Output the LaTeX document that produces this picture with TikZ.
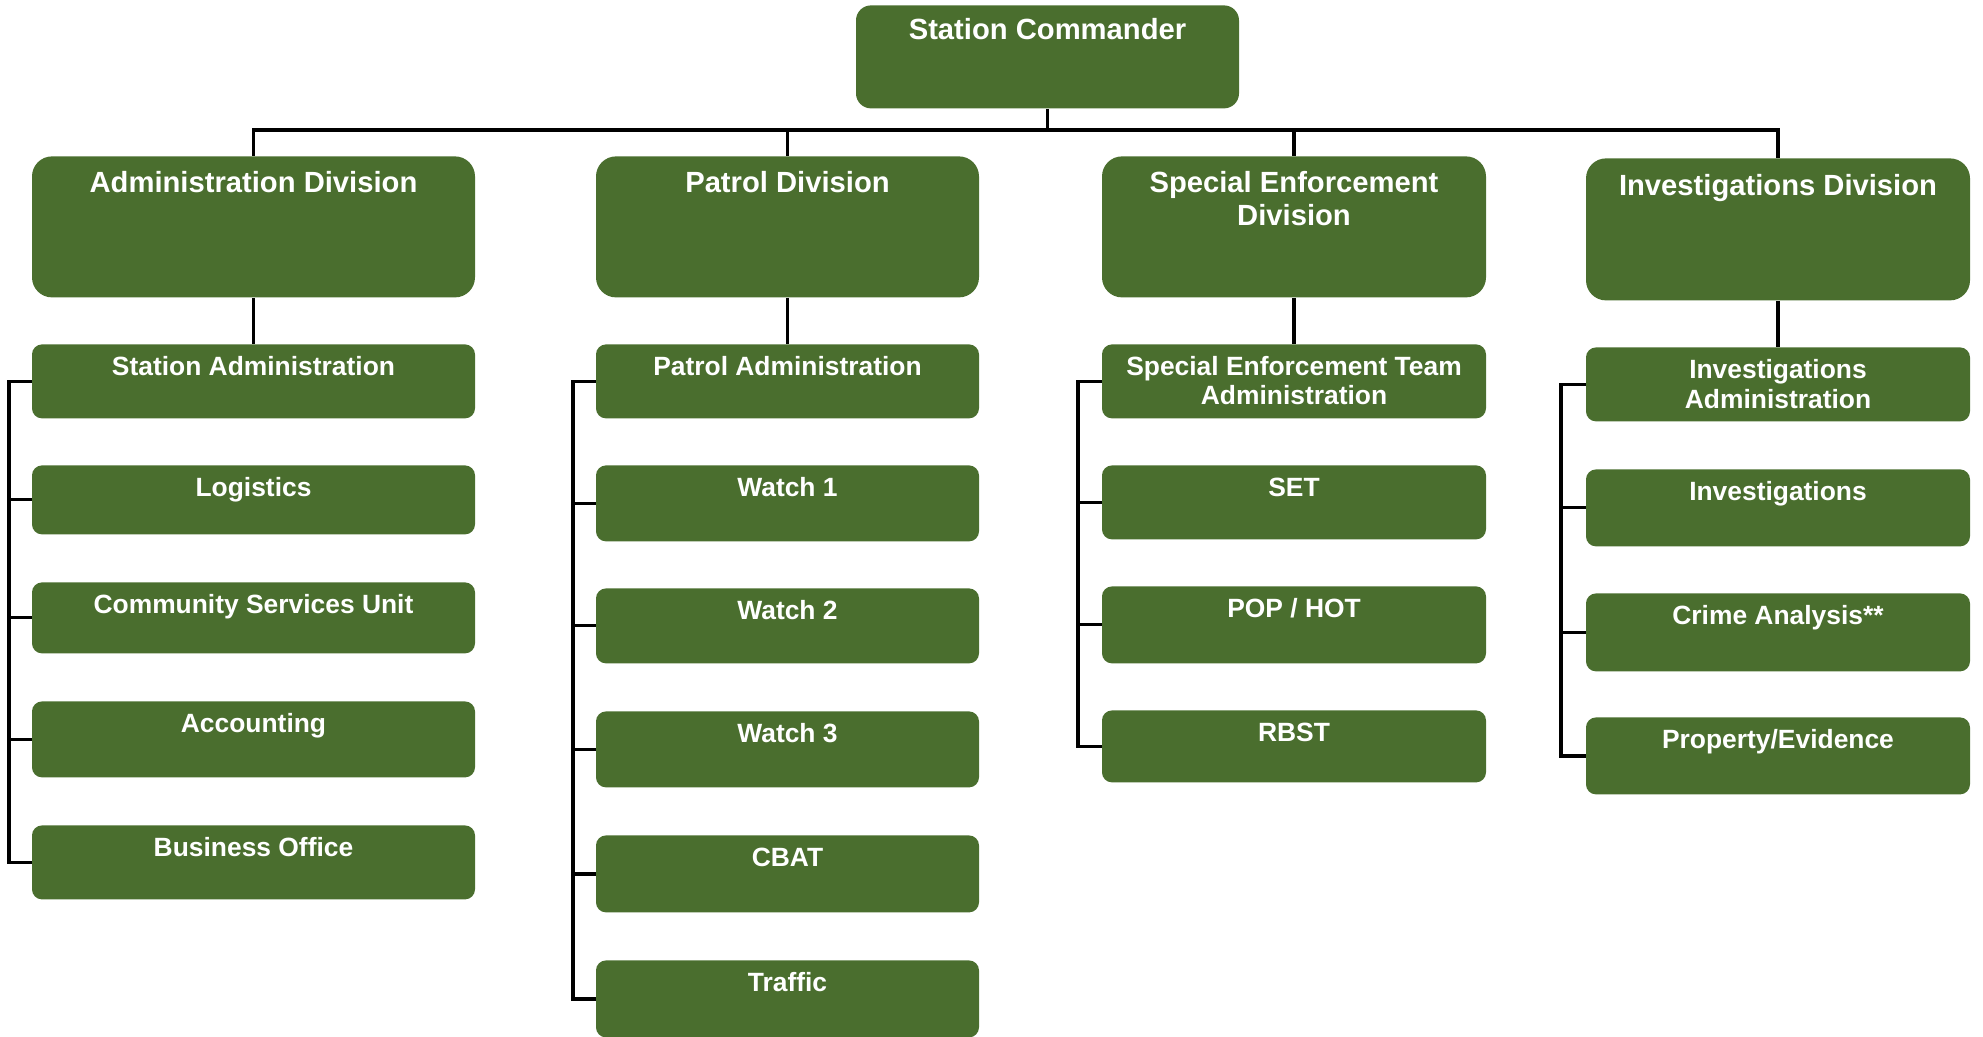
\documentclass[tikz,border=0pt]{standalone}
\usepackage{fontspec}
\setmainfont{Liberation Sans}
\definecolor{orggreen}{RGB}{74,110,46}

\tikzset{
  box/.style={fill=orggreen, text=white, anchor=north, inner sep=0pt, align=center},
  chief/.style={box, rounded corners=7.5pt, font=\bfseries\fontsize{14.6}{16.5}\selectfont, text height=17pt},
  division/.style={box, rounded corners=10pt, font=\bfseries\fontsize{14.6}{16.5}\selectfont, text height=18pt, text depth=52.5pt},
  unit/.style={box, rounded corners=5pt, font=\bfseries\fontsize{13.2}{14.7}\selectfont, text height=15.5pt},
  adm/.style={minimum width=221.5pt},
  pat/.style={minimum width=191.5pt},
  sen/.style={minimum width=192pt},
  inv/.style={minimum width=192pt},
  link/.style={draw=black, line width=1.6pt},
}

\begin{document}
\begin{tikzpicture}[x=0.5pt, y=-0.5pt]
    \useasboundingbox (0,0) rectangle (1983,1037);
    \node[chief, minimum width=191.5pt, text depth=34.5pt] (sc) at (1047.5,5) {Station Commander};
    % divisions
    \node[division, adm] (admdiv) at (253.5,156) {Administration Division};
    \node[division, pat] (patdiv) at (787.5,156) {Patrol Division};
    \node[division, sen, text height=34.5pt, text depth=36pt] (sendiv) at (1294,156) {Special Enforcement\\Division};
    \node[division, inv, text height=18.5pt] (invdiv) at (1778,158) {Investigations Division};
    % administration
    \node[unit, adm, text depth=21.5pt] (sa) at (253.5,344) {Station Administration};
    \node[unit, adm, text depth=19pt] (log) at (253.5,465) {Logistics};
    \node[unit, adm, text depth=20pt] (csu) at (253.5,582) {Community Services Unit};
    \node[unit, adm, text depth=22.5pt] (acc) at (253.5,701) {Accounting};
    \node[unit, adm, text depth=21.5pt] (bo) at (253.5,825) {Business Office};
    % patrol
    \node[unit, pat, text depth=21.5pt] (pa) at (787.5,344) {Patrol Administration};
    \node[unit, pat, text depth=22.5pt] (w1) at (787.5,465) {Watch 1};
    \node[unit, pat, text depth=22pt] (w2) at (787.5,588) {Watch 2};
    \node[unit, pat, text depth=22.5pt] (w3) at (787.5,711) {Watch 3};
    \node[unit, pat, text depth=23pt] (cbat) at (787.5,835) {CBAT};
    \node[unit, pat, text depth=23pt] (tr) at (787.5,960) {Traffic};
    % special enforcement
    \node[unit, sen, text height=30.2pt, text depth=6.8pt] (seta) at (1294,344) {Special Enforcement Team\\Administration};
    \node[unit, sen, text depth=21.5pt] (set) at (1294,465) {SET};
    \node[unit, sen, text depth=23pt] (pop) at (1294,586) {POP / HOT};
    \node[unit, sen, text depth=20.5pt] (rbst) at (1294,710) {RBST};
    % investigations
    \node[unit, inv, text height=30.5pt, text depth=6.5pt] (ia) at (1778,347) {Investigations\\Administration};
    \node[unit, inv, text depth=23pt] (invu) at (1778,469) {Investigations};
    \node[unit, inv, text depth=23.5pt] (ca) at (1778,593) {Crime Analysis**};
    \node[unit, inv, text depth=23pt] (pe) at (1778,717) {Property/Evidence};

    \coordinate (bar) at (0,130);
    \coordinate (admT) at (9,0);
    \coordinate (patT) at (573,0);
    \coordinate (senT) at (1078,0);
    \coordinate (invT) at (1561,0);

    \draw[link] (sc.south) -- (sc.south |- bar);
    \draw[link] (admdiv.north) -- (admdiv.north |- bar) -- (invdiv.north |- bar) -- (invdiv.north);
    \foreach \d in {patdiv,sendiv}
        \draw[link] (\d.north |- bar) -- (\d.north);
    \draw[link] (admdiv.south) -- (sa.north);
    \draw[link] (patdiv.south) -- (pa.north);
    \draw[link] (sendiv.south) -- (seta.north);
    \draw[link] (invdiv.south) -- (ia.north);

    \draw[link] (sa.west) -- (sa.west -| admT) -- (bo.west -| admT) -- (bo.west);
    \foreach \u in {log,csu,acc}
        \draw[link] (\u.west -| admT) -- (\u.west);
    \draw[link] (pa.west) -- (pa.west -| patT) -- (tr.west -| patT) -- (tr.west);
    \foreach \u in {w1,w2,w3,cbat}
        \draw[link] (\u.west -| patT) -- (\u.west);
    \draw[link] (seta.west) -- (seta.west -| senT) -- (rbst.west -| senT) -- (rbst.west);
    \foreach \u in {set,pop}
        \draw[link] (\u.west -| senT) -- (\u.west);
    \draw[link] (ia.west) -- (ia.west -| invT) -- (pe.west -| invT) -- (pe.west);
    \foreach \u in {invu,ca}
        \draw[link] (\u.west -| invT) -- (\u.west);
\end{tikzpicture}
\end{document}
